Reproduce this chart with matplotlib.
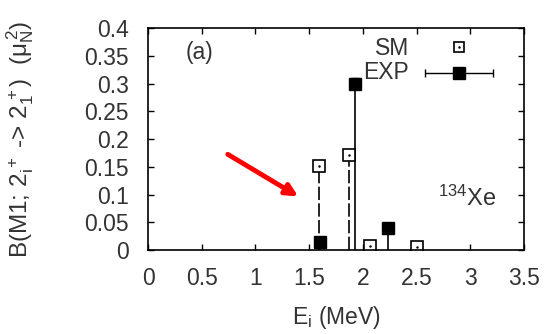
import numpy as np
import matplotlib.pyplot as plt

plt.rcParams['font.family'] = ['Liberation Sans', 'DejaVu Sans']
plt.rcParams['mathtext.fontset'] = 'custom'
plt.rcParams['mathtext.rm'] = 'Liberation Sans'
plt.rcParams['mathtext.it'] = 'Liberation Sans'

# SM values
sm_e = [1.59, 1.87, 2.07, 2.50]
sm_b = [0.152, 0.171, 0.008, 0.005]
# EXP values
exp_e = [1.60, 1.93, 2.23]
exp_b = [0.015, 0.300, 0.040]
exp_err = [0.0, 0.010, 0.0]

tc = '#333333'
fs = 16.5
fig = plt.figure(figsize=(5.45, 3.34), dpi=100)
ax = fig.add_axes([0.2716, 0.2515, 0.6899, 0.6645])

ax.vlines(sm_e, 0, sm_b, colors='k', linestyles=(0, (8, 2)), lw=1.2)
ax.vlines(exp_e, 0, exp_b, colors='k', lw=1.2)
ax.plot(sm_e, sm_b, 's', mfc='white', mec='k', ms=9, mew=1.2, ls='none')
ax.plot(sm_e, sm_b, '.', color='k', ms=1.5, ls='none')
ax.errorbar(exp_e, exp_b, yerr=exp_err, fmt='s', color='k', ms=9,
            capsize=3, elinewidth=1, capthick=1)

# legend (gnuplot style)
ax.text(0.695, 0.91, 'SM', transform=ax.transAxes, ha='right', va='center',
        fontsize=fs, color=tc)
ax.text(0.695, 0.80, 'EXP', transform=ax.transAxes, ha='right', va='center',
        fontsize=fs, color=tc)
ax.plot([0.827], [0.914], 's', transform=ax.transAxes, mfc='white', mec='k',
        ms=7.5, mew=1.2)
ax.plot([0.827], [0.914], '.', transform=ax.transAxes, color='k', ms=1.5)
ax.errorbar([0.827], [0.797], xerr=[[0.09], [0.09]], fmt='s', color='k',
            ms=9, capsize=3, elinewidth=1, capthick=1, transform=ax.transAxes)

ax.text(0.1, 0.89, '(a)', transform=ax.transAxes, ha='left', va='center',
        fontsize=fs, color=tc)
ax.text(2.97, 0.094, r'$^{134}$Xe', ha='center', va='center', fontsize=17,
        color=tc)

ax.annotate('', xy=(1.42, 0.094), xytext=(0.72, 0.175),
            arrowprops=dict(arrowstyle='-|>,head_length=0.7,head_width=0.35',
                            color='red', lw=3.5))

ax.set_xlim(0, 3.5)
ax.set_ylim(0, 0.4)
ax.set_xticks(np.arange(0, 3.51, 0.5))
ax.set_xticklabels(['0', '0.5', '1', '1.5', '2', '2.5', '3', '3.5'])
ax.set_yticks(np.arange(0, 0.401, 0.05))
ax.set_yticklabels(['0', '0.05', '0.1', '0.15', '0.2', '0.25', '0.3',
                    '0.35', '0.4'])
ax.tick_params(direction='in', top=True, right=True, length=4, width=1,
               labelsize=fs, labelcolor=tc)
ax.tick_params(axis='y', pad=14)
ax.tick_params(axis='x', pad=12)
for s in ax.spines.values():
    s.set_linewidth(1.2)

ax.set_xlabel(r'E$_{\rm i}$ (MeV)', fontsize=fs, color=tc)
ax.xaxis.set_label_coords(0.5, -0.245)
ax.set_ylabel(r'B(M1; 2$_{\rm i}^{\,+}$ -> 2$_{1}^{\,+}$)  ($\mu_{\rm N}^{\,2}$)',
              fontsize=17.5, color=tc)
ax.yaxis.set_label_coords(-0.297, 0.5)

fig.savefig('out.png', dpi=100)
